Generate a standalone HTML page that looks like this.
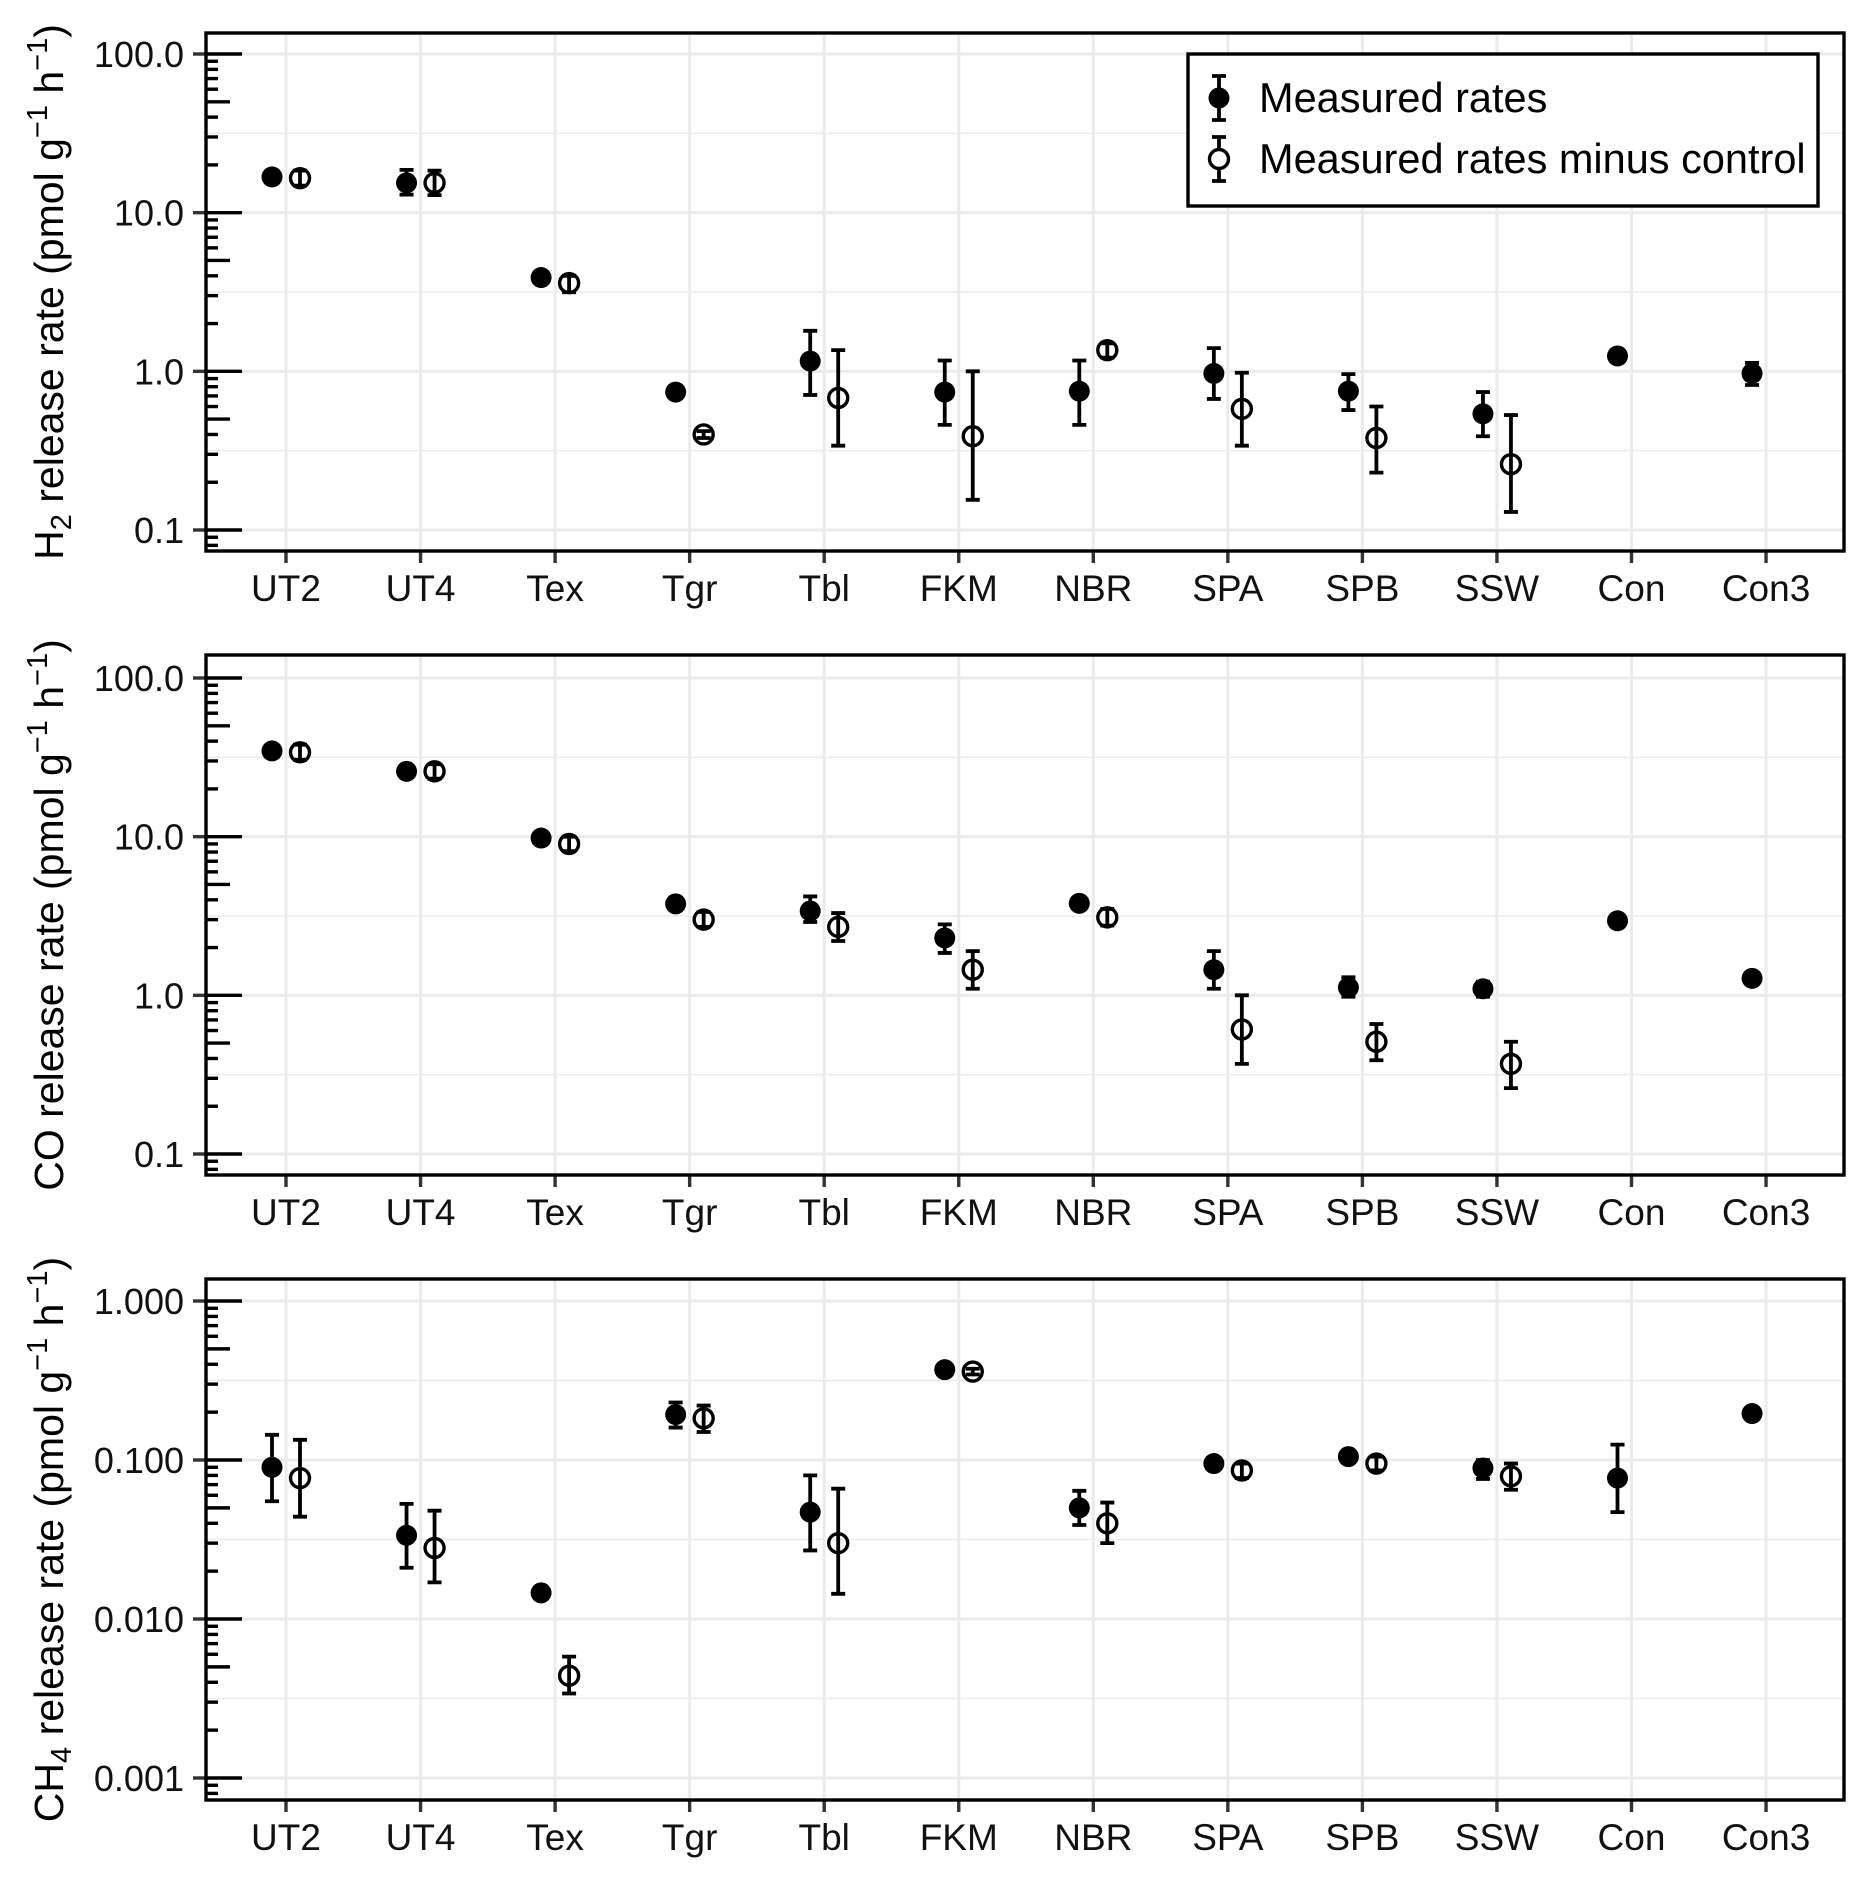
<!DOCTYPE html>
<html><head><meta charset="utf-8"><style>
html,body{margin:0;padding:0;background:#fff}
svg{display:block;font-family:"Liberation Sans",Arial,sans-serif}
</style></head><body>
<svg id="chart" width="1865" height="1878" viewBox="0 0 1865 1878" xmlns="http://www.w3.org/2000/svg">
<rect width="1865" height="1878" fill="#fff"/>
</svg>
<script>
const categories = ["UT2","UT4","Tex","Tgr","Tbl","FKM","NBR","SPA","SPB","SSW","Con","Con3"];
// H2 panel
const h2Measured = [16.8,15.4,3.9,0.74,1.16,0.74,0.75,0.97,0.75,0.54,1.25,0.97];
const h2MeasuredLo = [15.6,13.0,3.75,0.71,0.71,0.46,0.46,0.67,0.57,0.39,1.2,0.82];
const h2MeasuredHi = [18.2,18.6,4.05,0.77,1.8,1.17,1.17,1.4,0.96,0.74,1.3,1.13];
const h2Minus = [16.5,15.4,3.6,0.40,0.68,0.39,1.36,0.58,0.38,0.26,null,null];
const h2MinusLo = [14.8,12.9,3.15,0.38,0.34,0.155,1.22,0.34,0.23,0.13,null,null];
const h2MinusHi = [18.4,18.4,4.0,0.42,1.36,1.0,1.5,0.98,0.6,0.53,null,null];
// CO panel
const coMeasured = [34.7,25.8,9.8,3.77,3.4,2.3,3.8,1.45,1.12,1.1,2.95,1.28];
const coMeasuredLo = [32.5,24.5,9.4,3.6,2.9,1.85,3.65,1.1,0.98,0.98,2.85,1.22];
const coMeasuredHi = [37,27.2,10.2,3.95,4.2,2.8,3.95,1.9,1.3,1.22,3.05,1.34];
const coMinus = [34,25.8,9.0,3.0,2.7,1.45,3.1,0.61,0.51,0.37,null,null];
const coMinusLo = [30.5,23.2,8.1,2.7,2.2,1.1,2.75,0.37,0.39,0.26,null,null];
const coMinusHi = [38,28.6,10.0,3.35,3.3,1.9,3.5,1.0,0.66,0.51,null,null];
// CH4 panel
const ch4Measured = [0.090,0.0336,0.0146,0.193,0.047,0.37,0.050,0.095,0.105,0.089,0.077,0.196];
const ch4MeasuredLo = [0.055,0.021,0.0140,0.16,0.027,0.355,0.039,0.090,0.099,0.076,0.047,0.19];
const ch4MeasuredHi = [0.144,0.053,0.0152,0.23,0.080,0.385,0.064,0.100,0.111,0.10,0.125,0.202];
const ch4Minus = [0.077,0.028,0.0044,0.183,0.030,0.36,0.040,0.086,0.095,0.079,null,null];
const ch4MinusLo = [0.044,0.017,0.0034,0.15,0.0144,0.345,0.030,0.077,0.086,0.065,null,null];
const ch4MinusHi = [0.134,0.048,0.0058,0.22,0.066,0.375,0.054,0.095,0.105,0.095,null,null];
const h2TickLabels = ["100.0","10.0","1.0","0.1"];
const coTickLabels = ["100.0","10.0","1.0","0.1"];
const ch4TickLabels = ["1.000","0.100","0.010","0.001"];

const NS="http://www.w3.org/2000/svg";
const svg=document.getElementById('chart');
function mk(tag,attrs,parent){const e=document.createElementNS(NS,tag);for(const k in attrs)e.setAttribute(k,attrs[k]);(parent||svg).appendChild(e);return e;}

const L=206,R=1844,X0=286,XSTEP=134.55,OFF=14;
function xPos(i){return X0+i*XSTEP;}

const panels=[
 {key:'h2',top:33,bottom:551,topDec:2,botDec:-1,yTop:54,yBot:530,labels:h2TickLabels,
  m:h2Measured,mlo:h2MeasuredLo,mhi:h2MeasuredHi,o:h2Minus,olo:h2MinusLo,ohi:h2MinusHi,gas:'H',sub:'2'},
 {key:'co',top:655,bottom:1175,topDec:2,botDec:-1,yTop:678,yBot:1154,labels:coTickLabels,
  m:coMeasured,mlo:coMeasuredLo,mhi:coMeasuredHi,o:coMinus,olo:coMinusLo,ohi:coMinusHi,gas:'CO',sub:''},
 {key:'ch4',top:1279,bottom:1800,topDec:0,botDec:-3,yTop:1301,yBot:1778,labels:ch4TickLabels,
  m:ch4Measured,mlo:ch4MeasuredLo,mhi:ch4MeasuredHi,o:ch4Minus,olo:ch4MinusLo,ohi:ch4MinusHi,gas:'CH',sub:'4'}
];

panels.forEach(p=>{
  const dec=(p.yBot-p.yTop)/(p.topDec-p.botDec);
  const y=v=>p.yTop+(p.topDec-Math.log10(v))*dec;
  const g=mk('g',{});
  
  
  for(let d=p.botDec-1;d<=p.topDec;d++){
    const ym=y(Math.pow(10,d+0.5));
    if(ym>p.top&&ym<p.bottom){const l=mk('line',{x1:L,x2:R,y1:ym,y2:ym,stroke:'#ebebeb','stroke-width':1.5},g);}
  }
  for(let d=p.botDec;d<=p.topDec;d++){
    const yy=y(Math.pow(10,d));
    const l=mk('line',{x1:L,x2:R,y1:yy,y2:yy,stroke:'#ebebeb','stroke-width':3},g);
    
    
  }
  categories.forEach((c,i)=>{
    const l=mk('line',{x1:xPos(i),x2:xPos(i),y1:p.top,y2:p.bottom,stroke:'#ebebeb','stroke-width':3},g);
    
    
  });
  for(let d=p.botDec-1;d<=p.topDec;d++){
    for(let k=1;k<=9;k++){
      const v=k*Math.pow(10,d);const yy=y(v);
      if(yy<p.top+1||yy>p.bottom-1)continue;
      const len=k===1?36:(k===5?24:12);
      const t=mk('line',{x1:L,x2:L+len,y1:yy,y2:yy,stroke:'#000','stroke-width':3.4},g);
      
      
    }
  }
  p.labels.forEach((lab,j)=>{
    const yy=y(Math.pow(10,p.topDec-j));
    const t=mk('line',{x1:L-13,x2:L,y1:yy,y2:yy,stroke:'#333','stroke-width':3.4},g);
    
    
    const tx=mk('text',{x:184,y:yy+13,'text-anchor':'end','font-size':36,fill:'#111'},g);
    tx.textContent=lab;
    
    
  });
  categories.forEach((c,i)=>{
    const t=mk('line',{x1:xPos(i),x2:xPos(i),y1:p.bottom,y2:p.bottom+12,stroke:'#333','stroke-width':3.4},g);
    
    
    const tx=mk('text',{x:xPos(i),y:p.bottom+50,'text-anchor':'middle','font-size':37,fill:'#111'},g);
    tx.textContent=c;
    
    
  });
  const fr=mk('rect',{x:L,y:p.top,width:R-L,height:p.bottom-p.top,fill:'none',stroke:'#000','stroke-width':3.4},g);
  
  
  const cy=(p.top+p.bottom)/2;
  const tt=mk('text',{x:0,y:0,transform:`translate(63,${cy}) rotate(-90)`,'text-anchor':'middle','font-size':41,fill:'#000'},g);
  
  
  let s=mk('tspan',{},tt);s.textContent=p.gas;
  if(p.sub){s=mk('tspan',{'font-size':29,dy:8},tt);s.textContent=p.sub;s=mk('tspan',{dy:-8},tt);s.textContent=' release rate (pmol g';}
  else{s=mk('tspan',{},tt);s.textContent=' release rate (pmol g';}
  s=mk('tspan',{'font-size':29,dy:-16},tt);s.textContent='−1';
  s=mk('tspan',{dy:16},tt);s.textContent=' h';
  s=mk('tspan',{'font-size':29,dy:-16},tt);s.textContent='−1';
  s=mk('tspan',{dy:16},tt);s.textContent=')';
  function series(vals,lo,hi,dx,filled,name){
    vals.forEach((v,i)=>{
      if(v==null)return;
      const cx=xPos(i)+dx;
      const eb=mk('path',{d:`M${cx-7},${y(hi[i])}H${cx+7}M${cx},${y(hi[i])}V${y(lo[i])}M${cx-7},${y(lo[i])}H${cx+7}`,stroke:'#000','stroke-width':3.8,fill:'none'},g);
      
      
      const c=mk('circle',{cx:cx,cy:y(v),r:filled?10.5:9.5,fill:filled?'#000':'none',stroke:'#000','stroke-width':filled?0:3.4},g);
      
      
    });
  }
  series(p.o,p.olo,p.ohi,OFF,false,'minus-control');
  series(p.m,p.mlo,p.mhi,-OFF,true,'measured');
});
const lg=mk('g',{});


const lb=mk('rect',{x:1188,y:54,width:630,height:152,fill:'#fff',stroke:'#000','stroke-width':3.4},lg);


[[98,true,'Measured rates'],[159,false,'Measured rates minus control']].forEach(([yy,f,t])=>{
  const e=mk('g',{},lg);
  
  
  mk('path',{d:`M1212,${yy-22}H1226M1219,${yy-22}V${yy+22}M1212,${yy+22}H1226`,stroke:'#000','stroke-width':3.8},e);
  mk('circle',{cx:1219,cy:yy,r:f?10.5:9.5,fill:f?'#000':'#fff',stroke:'#000','stroke-width':f?0:3.4},e);
  const tx=mk('text',{x:1259,y:yy+14,'font-size':41.5,fill:'#000'},e);tx.textContent=t;
});
</script>
</body></html>
